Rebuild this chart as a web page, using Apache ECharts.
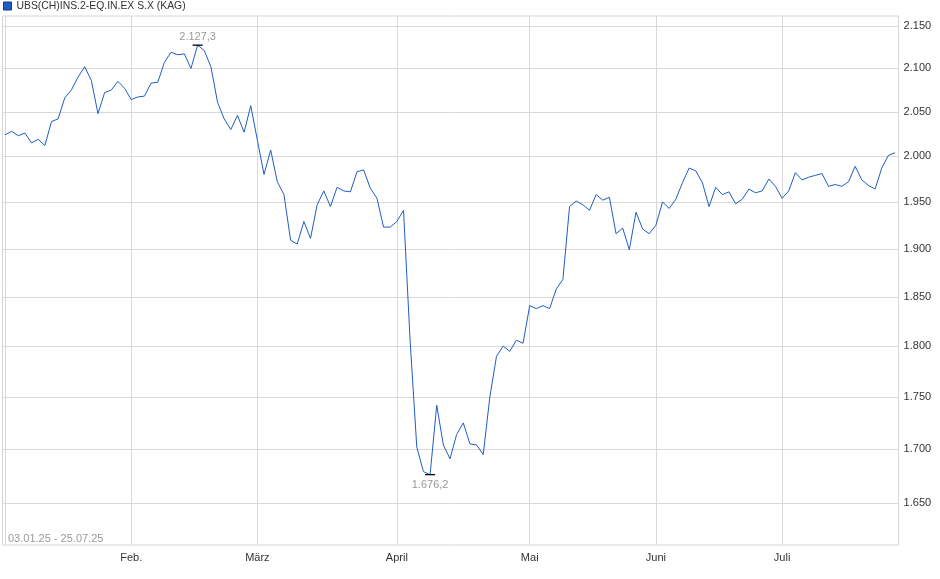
<!DOCTYPE html>
<html>
<head>
<meta charset="utf-8">
<script src="https://cdn.jsdelivr.net/npm/echarts@6/dist/echarts.min.js"></script>
<style>
  html, body { margin: 0; padding: 0; background: #fff; }
  #main { width: 940px; height: 579px; }
</style>
</head>
<body>
<div id="main"></div>
<script>
// month names under the gridlines (January has no label)
const monthLabels = ['', 'Feb.', 'März', 'April', 'Mai', 'Juni', 'Juli'];
// number of prices per month
const monthCounts = [19, 19, 21, 20, 19, 19, 18];
const yTicks = [1650, 1700, 1750, 1800, 1850, 1900, 1950, 2000, 2050, 2100, 2150];

const janValues = [2024, 2028, 2023, 2026, 2015, 2019, 2012, 2039, 2042, 2066, 2075, 2090, 2102, 2086, 2048, 2072, 2075, 2085, 2077];
const febValues = [2064, 2067, 2068, 2083, 2084, 2107, 2119, 2116, 2117, 2100, 2127.3, 2121, 2102, 2061, 2042, 2030, 2046, 2027, 2057];
const marValues = [2018, 1980, 2007, 1972, 1958, 1909, 1905, 1929, 1911, 1947, 1962, 1945, 1966, 1962, 1961, 1983, 1985, 1965, 1954, 1923, 1923];
const aprValues = [1929, 1941, 1805, 1702, 1679, 1676.2, 1742, 1704, 1691, 1714, 1725, 1705, 1704, 1695, 1750, 1790, 1800, 1795, 1806, 1803];
const mayValues = [1841, 1838, 1841, 1838, 1858, 1868, 1945, 1951, 1947, 1941, 1958, 1952, 1955, 1916, 1922, 1899, 1939, 1921, 1916];
const junValues = [1925, 1950, 1943, 1953, 1971, 1987, 1984, 1971, 1945, 1966, 1958, 1961, 1948, 1953, 1964, 1960, 1962, 1975, 1967];
const julValues = [1954, 1962, 1982, 1974, 1977, 1979, 1981, 1967, 1969, 1967, 1972, 1989, 1974, 1968, 1964, 1987, 2001, 2004];

const seriesName = 'UBS(CH)INS.2-EQ.IN.EX S.X (KAG)';
const rangeText = '03.01.25 - 25.07.25';

const values = [].concat(janValues, febValues, marValues, aprValues, mayValues, junValues, julValues);

// index of the first price of every month
const monthStarts = [];
let acc = 0;
monthCounts.forEach(function (c) { monthStarts.push(acc); acc += c; });

function deNum(v, dec) {
  var s = v.toFixed(dec).split('.');
  var i = s[0].replace(/\B(?=(\d{3})+(?!\d))/g, '.');
  return dec ? i + ',' + s[1] : i;
}

var chart = echarts.init(document.getElementById('main'));
var last = values.length - 1;

chart.setOption({
  animation: false,
  textStyle: { fontFamily: 'Liberation Sans, Arial, sans-serif' },
  legend: {
    left: 3, top: 1, padding: 0,
    icon: 'rect', itemWidth: 8, itemHeight: 8, itemGap: 5,
    itemStyle: { borderColor: '#0d3a8a', borderWidth: 1 },
    textStyle: { fontSize: 10.4, color: '#333' },
    data: [seriesName]
  },
  grid: {
    left: 2.5, right: 41.4, top: 16, bottom: 34,
    show: true, borderColor: '#d6d6d6', borderWidth: 1
  },
  xAxis: {
    type: 'value',
    min: -0.376, max: last + 0.54,
    axisLine: { show: false },
    axisTick: { show: false, customValues: monthStarts },
    splitLine: { show: true, lineStyle: { color: '#d9d9d9', width: 1 } },
    axisLabel: {
      customValues: monthStarts,
      fontSize: 11, color: '#333', margin: 7,
      formatter: function (v) {
        var k = monthStarts.indexOf(Math.round(v));
        return k >= 0 ? monthLabels[k] : '';
      }
    }
  },
  yAxis: {
    type: 'log', position: 'right',
    min: 1612, max: 2162,
    axisLine: { show: false },
    axisTick: { show: false, customValues: yTicks },
    splitLine: { show: true, lineStyle: { color: '#d9d9d9', width: 1 } },
    axisLabel: {
      customValues: yTicks,
      fontSize: 11, color: '#333', margin: 5,
      formatter: function (v) { return deNum(v, 0); }
    }
  },
  graphic: [{
    type: 'text', left: 8, top: 533,
    style: { text: rangeText, fontSize: 11, fill: '#999', fontFamily: 'Liberation Sans, Arial, sans-serif' }
  }],
  series: [{
    name: seriesName,
    type: 'line',
    symbol: 'none',
    color: '#1f5cc4',
    lineStyle: { width: 1, color: '#1f5cc4' },
    data: values.map(function (v, i) { return [i, v]; }),
    markPoint: {
      symbol: 'rect',
      symbolSize: [10, 1.3],
      itemStyle: { color: '#000' },
      label: {
        show: true, fontSize: 11, color: '#999',
        formatter: function (p) { return deNum(p.value, 1); }
      },
      data: [
        { type: 'max', label: { position: 'top', distance: 2 } },
        { type: 'min', label: { position: 'bottom', distance: 4 } }
      ]
    }
  }]
});
</script>
</body>
</html>
